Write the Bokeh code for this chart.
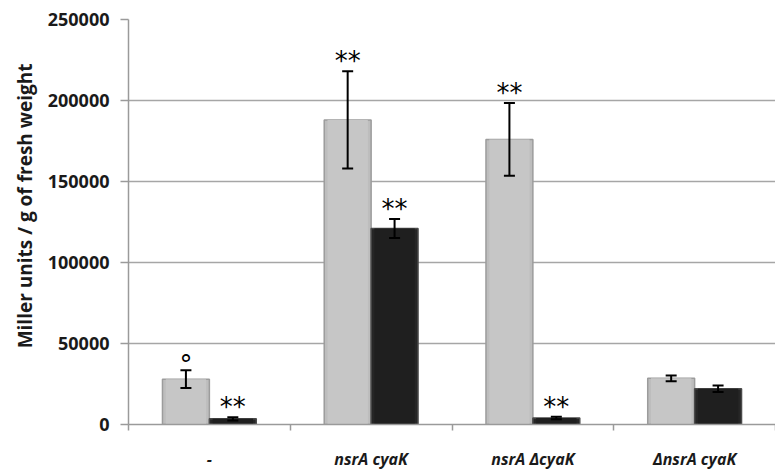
from bokeh.plotting import figure
from bokeh.models import (ColumnDataSource, Range1d, FixedTicker, NumeralTickFormatter,
                          Whisker, TeeHead, Title)
from bokeh.core.properties import value
from bokeh.embed import file_html
from bokeh.resources import INLINE

categories = ["-", "nsrA cyaK", "nsrA \u0394cyaK", "\u0394nsrA cyaK"]
light = [28000, 188000, 176000, 28500]
light_err = [5500, 30000, 22500, 1800]
dark = [3500, 121000, 4000, 22000]
dark_err = [1000, 5800, 800, 2000]
light_marks = ["\u00b0", "**", "**", ""]
dark_marks = ["**", "**", "**", ""]
y_ticks = [0, 50000, 100000, 150000, 200000, 250000]
y_title = "Miller units / g of fresh weight"

BAR_W = 0.29
MARK_OFFSET = {"\u00b0": -5, "**": -10, "": 0}
centers = [i + 0.5 for i in range(len(categories))]
lx = [c - BAR_W / 2 for c in centers]
dx = [c + BAR_W / 2 for c in centers]


def make_source(xs, vals, errs, marks):
    return ColumnDataSource(dict(
        x=xs, top=vals,
        up=[v + e for v, e in zip(vals, errs)],
        lo=[v - e for v, e in zip(vals, errs)],
        mark=marks, yoff=[MARK_OFFSET[m] for m in marks]))


src_l = make_source(lx, light, light_err, light_marks)
src_d = make_source(dx, dark, dark_err, dark_marks)

p = figure(width=775, height=472, output_backend="svg", toolbar_location=None,
           x_range=Range1d(0, 4), y_range=Range1d(0, 250000),
           min_border_left=128, min_border_top=19, min_border_bottom=46, min_border_right=0)
p.outline_line_color = None
p.xgrid.grid_line_color = None
p.ygrid.grid_line_color = "#a6a6a6"
p.ygrid.grid_line_width = 1.5
p.ygrid.ticker = FixedTicker(ticks=y_ticks)

# bars
p.vbar(x="x", top="top", width=BAR_W, source=src_l, fill_color="#bdbdbd",
       line_color="#9c9c9c", line_width=1.5)
p.vbar(x="x", top="top", width=BAR_W * 0.86, source=src_l, fill_color="#c6c6c6",
       line_color=None)
p.vbar(x="x", top="top", width=BAR_W, source=src_d, fill_color="#262626",
       line_color="#4a4a4a", line_width=1.5)
p.vbar(x="x", top="top", width=BAR_W * 0.86, source=src_d, fill_color="#1f1f1f",
       line_color=None)

for src in (src_l, src_d):
    w = Whisker(base="x", upper="up", lower="lo", source=src, line_color="black", line_width=2,
                upper_head=TeeHead(size=11, line_width=2, line_color="black"),
                lower_head=TeeHead(size=11, line_width=2, line_color="black"),
                level="overlay")
    p.add_layout(w)
    p.text(x="x", y="up", text="mark", source=src, text_align="center", text_baseline="middle",
           y_offset="yoff", text_font=value("DejaVu Sans"), text_font_size="26px",
           text_color="black")

# axes
p.yaxis.ticker = FixedTicker(ticks=y_ticks)
p.yaxis.formatter = NumeralTickFormatter(format="0")
p.yaxis.axis_line_color = "#9a9a9a"
p.yaxis.axis_line_width = 1.5
p.yaxis.major_tick_line_color = "#9a9a9a"
p.yaxis.major_tick_line_width = 1.5
p.yaxis.major_tick_in = 0
p.yaxis.major_tick_out = 8
p.yaxis.minor_tick_line_color = None
p.yaxis.major_label_text_font = "Open Sans"
p.yaxis.major_label_text_font_style = "bold"
p.yaxis.major_label_text_font_size = "18px"
p.yaxis.major_label_text_color = "#1a1a1a"
p.yaxis.major_label_standoff = 11

p.add_layout(Title(text=y_title, align="right", offset=44, standoff=14,
                   text_font="Open Sans", text_font_style="bold", text_font_size="19px",
                   text_color="#1a1a1a"), "left")

p.xaxis.ticker = FixedTicker(ticks=centers, minor_ticks=list(range(len(categories) + 1)))
p.xaxis.major_label_overrides = {c: lab for c, lab in zip(centers, categories)}
p.xaxis.major_tick_line_color = None
p.xaxis.minor_tick_line_color = "#9a9a9a"
p.xaxis.minor_tick_line_width = 1.5
p.xaxis.minor_tick_in = 0
p.xaxis.minor_tick_out = 6
p.xaxis.axis_line_color = "#9a9a9a"
p.xaxis.axis_line_width = 1.5
p.xaxis.major_label_text_font = "Open Sans"
p.xaxis.major_label_text_font_style = "bold italic"
p.xaxis.major_label_text_font_size = "16px"
p.xaxis.major_label_text_color = "#1a1a1a"
p.xaxis.major_label_standoff = 17

open("out.html", "w").write(file_html(p, INLINE))
